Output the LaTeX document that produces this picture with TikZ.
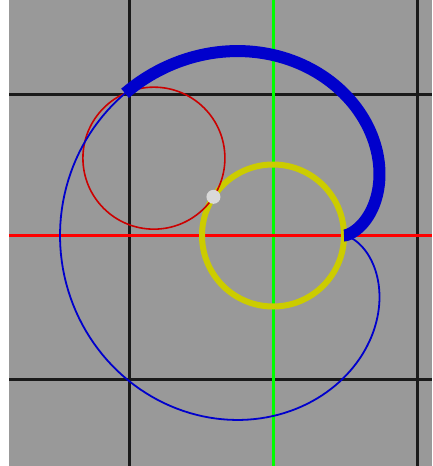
\documentclass[tikz,border=0pt]{standalone}
\usetikzlibrary{calc}
\definecolor{bggray}{HTML}{999999}
\definecolor{gridblack}{HTML}{1A1A1A}
\definecolor{axisgreen}{HTML}{00FF00}
\definecolor{axisred}{HTML}{FF0000}
\definecolor{fixyellow}{HTML}{CCCC00}
\definecolor{rollred}{HTML}{CC0000}
\definecolor{traceblue}{HTML}{0000CC}
\definecolor{dotgray}{HTML}{D9D9D9}
\tikzset{
  gridline/.style={gridblack, line width=3pt},
  greenaxis/.style={axisgreen, line width=3pt},
  redaxis/.style={axisred, line width=3pt},
  fixedcircle/.style={fixyellow, line width=6pt},
  rollcircle/.style={rollred, line width=1.6pt},
  thintrace/.style={traceblue, line width=1.8pt},
  thicktrace/.style={traceblue, line width=12pt, line cap=butt},
  contactdot/.style={fill=dotgray, draw=none},
}
\begin{document}
\begin{tikzpicture}[x=1pt,y=-1pt]
\useasboundingbox (0,0) rectangle (432,466);
\fill[white] (0,0) rectangle (432,466);
\fill[bggray] (9,0) rectangle (432,466);
% grid
\draw[gridline] (129.5,0) -- (129.5,466);
\draw[gridline] (417.5,0) -- (417.5,466);
\draw[gridline] (9,94) -- (432,94);
\draw[gridline] (9,379) -- (432,379);
% axes
\coordinate (O) at (273,235.5);
\draw[greenaxis] (273,0) -- (273,466);
\draw[redaxis] (9,235.5) -- (432,235.5);
% fixed circle
\draw[fixedcircle] (O) circle[radius=71];
% rolling circle
\coordinate (C) at ($(O)+({142*cos(147)},{-142*sin(147)})$);
\draw[rollcircle] (C) circle[radius=71];
% full cardioid
\draw[thintrace] plot[domain=0:360, samples=240, variable=\t]
  ({273+71*(2*cos(\t)-cos(2*\t))},{235.5-71*(2*sin(\t)-sin(2*\t))}) -- cycle;
% traced part
\draw[thicktrace] plot[domain=0:147, samples=120, variable=\t]
  ({273+71*(2*cos(\t)-cos(2*\t))},{235.5-71*(2*sin(\t)-sin(2*\t))});
% contact point
\coordinate (K) at ($(O)+({71*cos(147)},{-71*sin(147)})$);
\fill[contactdot] (K) circle[radius=7];
\end{tikzpicture}
\end{document}
